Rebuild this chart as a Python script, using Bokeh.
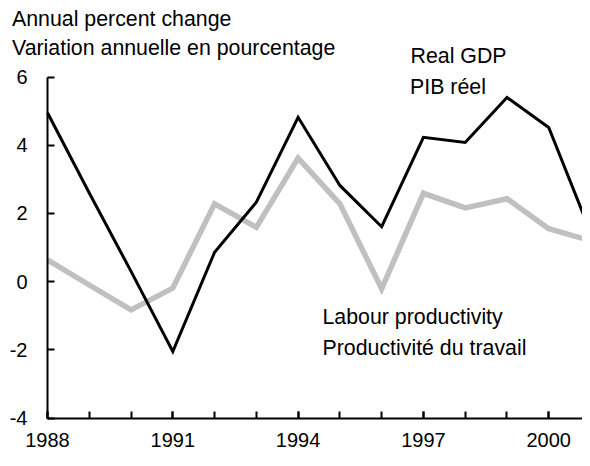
from bokeh.plotting import figure
from bokeh.models import FixedTicker, Label, Range1d, PrintfTickFormatter
from bokeh.embed import file_html
from bokeh.resources import INLINE

# Data (annual percent change)
years = [1988, 1989, 1990, 1991, 1992, 1993, 1994, 1995, 1996, 1997, 1998, 1999, 2000, 2001]
real_gdp = [4.95, 2.6, 0.3, -2.05, 0.86, 2.33, 4.82, 2.82, 1.61, 4.23, 4.08, 5.4, 4.52, 1.45]
labour_productivity = [0.64, -0.1, -0.83, -0.19, 2.28, 1.59, 3.62, 2.28, -0.21, 2.59, 2.16, 2.43, 1.55, 1.2]
x_label_years = [1988, 1991, 1994, 1997, 2000]
y_ticks = [-4, -2, 0, 2, 4, 6]

FONT = "Liberation Sans"
TICK_FS = "20px"
TEXT_FS = "16pt"

W, H = 582, 450
X0, X1 = 1988, 2001
Y0, Y1 = -4, 6
# canvas pixel positions of the axis ends
PX0, PX1 = 47.0, 590.0
PY1, PY0 = 76.5, 417.5

sx = (PX1 - PX0) / (X1 - X0)
sy = (PY0 - PY1) / (Y1 - Y0)

p = figure(width=W, height=H, output_backend="svg", toolbar_location=None,
           x_range=Range1d(X0 - PX0 / sx, X1 + (W - PX1) / sx),
           y_range=Range1d(Y0 - (H - PY0) / sy, Y1 + PY1 / sy),
           min_border_left=0, min_border_right=0, min_border_top=0, min_border_bottom=0)
p.outline_line_color = None
p.xgrid.visible = False
p.ygrid.visible = False
p.background_fill_color = "white"
p.border_fill_color = "white"

p.line(years, labour_productivity, line_color="#c0c0c0", line_width=5.5, line_join="miter")
p.line(years, real_gdp, line_color="black", line_width=3, line_join="miter")

# axes
xa = p.xaxis[0]
xa.fixed_location = Y0
xa.bounds = (X0, X1)
xa.ticker = FixedTicker(ticks=x_label_years, minor_ticks=years)
xa.formatter = PrintfTickFormatter(format="%d")
xa.axis_line_width = 2
xa.axis_line_color = "black"
xa.major_tick_in = 7
xa.major_tick_out = 0
xa.minor_tick_in = 7
xa.minor_tick_out = 0
xa.major_tick_line_width = 2
xa.minor_tick_line_width = 2
xa.minor_tick_line_color = "black"
xa.major_label_text_font = FONT
xa.major_label_text_font_size = TICK_FS
xa.major_label_text_color = "black"
xa.major_label_standoff = 15

ya = p.yaxis[0]
ya.fixed_location = X0
ya.bounds = (Y0, Y1)
ya.ticker = FixedTicker(ticks=y_ticks, minor_ticks=[])
ya.formatter = PrintfTickFormatter(format="%d")
ya.axis_line_width = 2
ya.axis_line_color = "black"
ya.major_tick_in = 7
ya.major_tick_out = 0
ya.major_tick_line_width = 2
ya.minor_tick_line_color = None
ya.major_label_text_font = FONT
ya.major_label_text_font_size = TICK_FS
ya.major_label_text_color = "black"
ya.major_label_standoff = 20

# canvas pixel -> data coords for the text annotations
def dx(cx):
    return X0 + (cx - PX0) / sx
def dy(cy):
    return Y1 - (cy - PY1) / sy

texts = [
    ("Annual percent change", 11.5, 18.5),
    ("Variation annuelle en pourcentage", 11.5, 47.5),
    ("Real GDP", 410, 55.3),
    ("PIB réel", 409.5, 86.5),
    ("Labour productivity", 322, 316),
    ("Productivité du travail", 322, 347.5),
]
for t, cx, cy in texts:
    p.add_layout(Label(x=dx(cx), y=dy(cy), text=t, text_font=FONT, text_font_size=TEXT_FS,
                       text_color="black", text_baseline="alphabetic", text_align="left"))

open("out.html", "w").write(file_html(p, INLINE))
